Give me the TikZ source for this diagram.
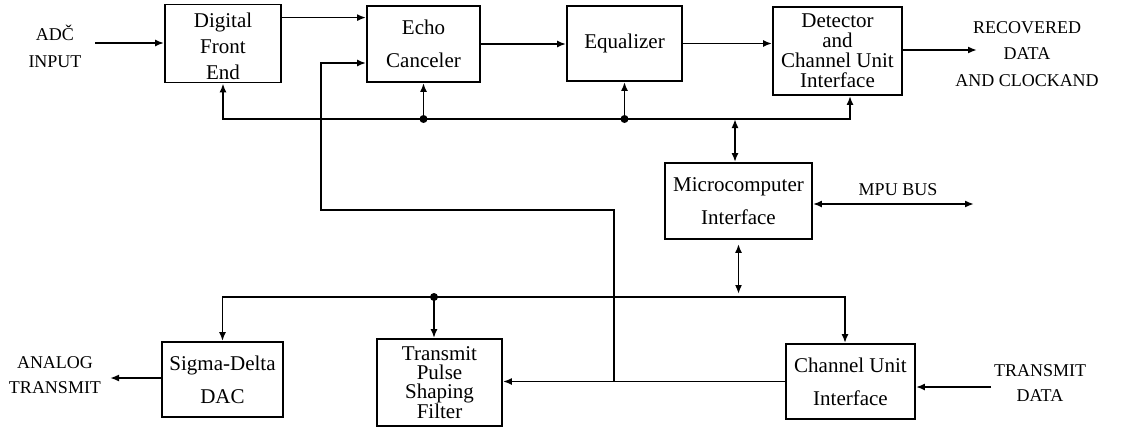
\documentclass[tikz,border=0pt]{standalone}
\usepackage{fontspec}
\setmainfont{Liberation Serif}
\usetikzlibrary{arrows.meta,calc}
\begin{document}
\begin{tikzpicture}[x=1pt,y=-1pt,
  box/.style={draw,line width=1.8pt,inner sep=0pt,align=center,font=\fontsize{21}{33}\selectfont},
  lbl/.style={align=center,inner sep=0pt,font=\fontsize{18}{25}\selectfont},
  wire/.style={line width=1.8pt},
  arr/.style={wire,-{Latex[length=9pt,width=7pt]}},
  darr/.style={wire,{Latex[length=9pt,width=7pt]}-{Latex[length=9pt,width=7pt]}},
  jdot/.style={circle,fill,inner sep=0pt,minimum size=8pt}]
\useasboundingbox (0,0) rectangle (1127,428);

% boxes
\node[box,minimum width=116pt,minimum height=77pt,font=\fontsize{21}{26}\selectfont] (dfe) at (223,43.5)
  {\raisebox{-5pt}[\height][\depth]{\begin{tabular}{@{}c@{}}Digital\\Front\\End\end{tabular}}};
\node[box,minimum width=113pt,minimum height=76pt] (echo) at (423.5,44) {Echo\\Canceler};
\node[box,minimum width=115pt,minimum height=75pt] (eq) at (624.5,43.5) {Equalizer};
\node[box,minimum width=129pt,minimum height=88pt,font=\fontsize{21}{20}\selectfont] (det) at (837.5,51)
  {Detector\\and\\Channel Unit\\Interface};
\node[box,minimum width=147pt,minimum height=76pt] (micro) at (738.5,201) {Microcomputer\\Interface};
\node[box,minimum width=121pt,minimum height=75pt] (sigma) at (222.5,379.5) {Sigma-Delta\\DAC};
\node[box,minimum width=125pt,minimum height=87pt,font=\fontsize{21}{19}\selectfont] (tx) at (439.5,382.5)
  {Transmit\\Pulse\\Shaping\\Filter};
\node[box,minimum width=129pt,minimum height=75pt] (ch) at (850.5,381.5) {Channel Unit\\Interface};

% labels
\node[lbl,font=\fontsize{18}{27}\selectfont] (adc) at (55,46.5) {ADČ\\INPUT};
\node[lbl,font=\fontsize{18}{26.5}\selectfont] (rec) at (1027,54) {RECOVERED\\DATA\\AND CLOCKAND};
\node[lbl] (analog) at (55,375.5) {ANALOG\\TRANSMIT};
\node[lbl] (mpu) at (898,190) {MPU BUS};
\node[lbl] (txd) at (1040,383) {TRANSMIT\\DATA};

% free ends and bus points
\coordinate (adcin) at (95,43);
\coordinate (recout) at (977,50);
\coordinate (anaout) at (110,378);
\coordinate (mpuend) at (974,204);
\coordinate (txdin) at (991,387);
\coordinate (tb) at (537,119);
\coordinate (lb) at (600,297);
\coordinate (fbx) at (614,300);
\coordinate (fbM) at (321,210);

% top row
\draw[arr] (adcin) -- (adcin -| dfe.west);
\coordinate (p1) at ([yshift=-14pt]dfe.north east);
\draw[arr] (p1) -- (p1 -| echo.west);
\draw[arr] (echo.east) -- (echo.east -| eq.west);
\draw[arr] (eq.east) -- (eq.east -| det.west);
\draw[arr] (det.east |- recout) -- (recout);

% top bus
\coordinate (detin) at ([xshift=12.5pt]det.south);
\draw[darr] (dfe.south) |- (tb) -| (detin);
\node[jdot] (d1) at (echo.south |- tb) {};
\draw[arr] (d1.center) -- (echo.south);
\node[jdot] (d2) at (eq.south |- tb) {};
\draw[arr] (d2.center) -- (eq.south);
\draw[darr] ([xshift=-3.5pt]micro.north |- tb) -- ([xshift=-3.5pt]micro.north);

% MPU bus
\draw[darr] ([yshift=-3pt]micro.east) -- (mpuend);
\draw[darr,shorten <=4pt,shorten >=3pt] (micro.south) -- (micro.south |- lb);

% lower bus
\coordinate (chin) at ([xshift=-5.5pt]ch.north);
\draw[darr] (sigma.north) |- (lb) -| (chin);
\coordinate (txin) at ([xshift=-5.5pt]tx.north);
\node[jdot] (d3) at (txin |- lb) {};
\draw[arr] (d3.center) -- (txin);

% transmit path and feedback
\draw[arr] (ch.west) -- (ch.west -| tx.east);
\coordinate (echofb) at ([yshift=-19pt]echo.west);
\draw[arr] (fbx |- ch.west) |- (fbM) |- (echofb);
\draw[arr] (sigma.west |- anaout) -- (anaout);
\draw[arr] (txdin) -- (txdin -| ch.east);
\end{tikzpicture}
\end{document}
